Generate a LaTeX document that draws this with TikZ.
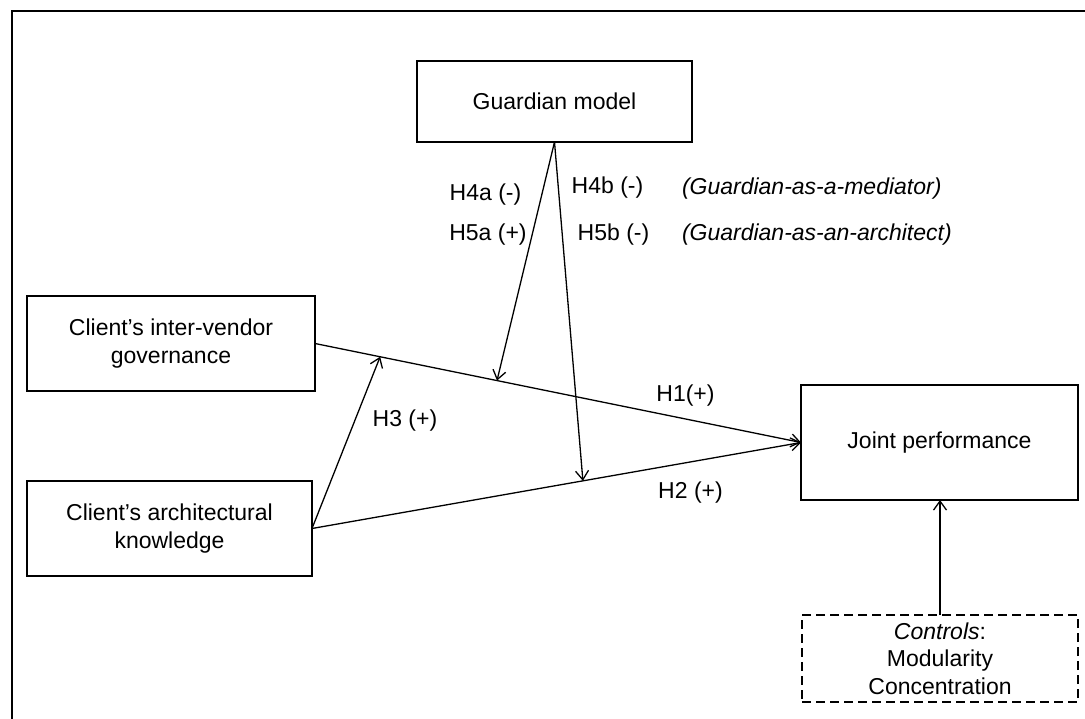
\documentclass[tikz,border=0pt]{standalone}
\usepackage{fontspec}
\setmainfont{Liberation Sans}
\usetikzlibrary{arrows.meta,calc}
\begin{document}
\begin{tikzpicture}[x=1pt,y=-1pt,
  every node/.style={font=\fontsize{23}{27.5}\selectfont, outer sep=0pt},
  box/.style={draw, line width=2pt, rectangle, align=center, inner sep=0pt},
  ctrlbox/.style={box, dash pattern=on 9pt off 5pt},
  lbl/.style={inner sep=0pt},
  arr/.style={line width=1.3pt, -{Straight Barb[length=9pt,width=13pt,line width=1.3pt]}}]
\useasboundingbox (0,0) rectangle (1085,719);
\fill[white] (0,0) rectangle (1085,719);
% frame (cropped on the right and at the bottom)
\draw[line width=2pt] (1085,11) -- (12,11) -- (12,719);

\node[box, minimum width=275pt, minimum height=81pt] (G) at (554.5,101.5) {Guardian model};
\node[box, minimum width=288pt, minimum height=95pt] (IV) at (171,343.5) {Client’s inter-vendor\\governance};
\node[box, minimum width=285pt, minimum height=95pt] (AK) at (169.5,528.5) {Client’s architectural\\knowledge};
\node[box, minimum width=277pt, minimum height=115pt] (J) at (939.5,442.5) {Joint performance};
\node[ctrlbox, minimum width=276pt, minimum height=87pt] (C) at (940,658.5) {\textit{Controls}:\\Modularity\\Concentration};

\coordinate (p1) at ($(IV.east)!0.134!(J.west)$);
\coordinate (p2) at ($(IV.east)!0.3745!(J.west)$);
\coordinate (p3) at ($(AK.east)!0.554!(J.west)$);

\draw[arr] (IV.east) -- (J.west);
\draw[arr] (AK.east) -- (J.west);
\draw[arr] (AK.east) -- (p1);
\draw[arr] (G.south) -- (p2);
\draw[arr] (G.south) -- (p3);
\draw[arr] (C.north) -- (C.north |- J.south);

\node[lbl] (l4a) at (485.5,195) {H4a (-)};
\node[lbl] (l5a) at (488,235) {H5a (+)};
\node[lbl] (l4b) at (607.5,188) {H4b (-)};
\node[lbl] (l5b) at (613.5,235) {H5b (-)};
\node[lbl, anchor=west] (gm) at (682,189) {\textit{(Guardian-as-a-mediator)}};
\node[lbl, anchor=west] (ga) at (682,235) {\textit{(Guardian-as-an-architect)}};
\node[lbl] (l1) at (685.5,396) {H1(+)};
\node[lbl] (l2) at (690.5,493) {H2 (+)};
\node[lbl] (l3) at (405,421) {H3 (+)};
\end{tikzpicture}
\end{document}
